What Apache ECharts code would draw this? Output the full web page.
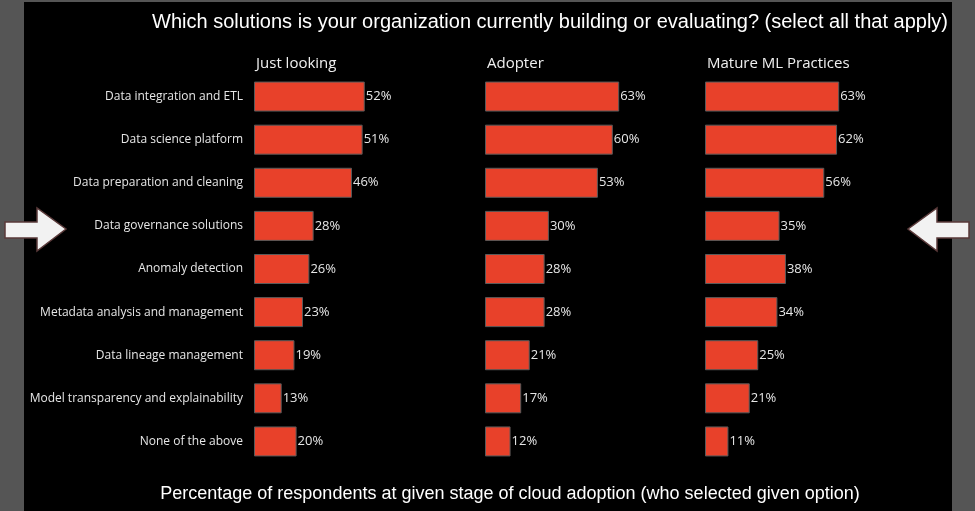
<!DOCTYPE html>
<html><head><meta charset="utf-8">
<script src="https://cdn.jsdelivr.net/npm/echarts@6/dist/echarts.min.js"></script>
<style>html,body{margin:0;padding:0;background:#000;}#c{width:975px;height:511px;}</style>
</head><body><div id="c"></div>
<script>
const categories = ["Data integration and ETL","Data science platform","Data preparation and cleaning","Data governance solutions","Anomaly detection","Metadata analysis and management","Data lineage management","Model transparency and explainability","None of the above"];
const groups = ["Just looking","Adopter","Mature ML Practices"];
const justLooking = [52,51,46,28,26,23,19,13,20];
const adopter = [63,60,53,30,28,28,21,17,12];
const mature = [63,62,56,35,38,34,25,21,11];
const titleText = "Which solutions is your organization currently building or evaluating? (select all that apply)";
const footText = "Percentage of respondents at given stage of cloud adoption (who selected given option)";

const seriesData = [justLooking, adopter, mature];
const lefts = [254, 485, 705];
const chart = echarts.init(document.getElementById('c'));
const grids = [], xAxes = [], yAxes = [], series = [], titles = [];
seriesData.forEach((d, i) => {
  grids.push({left: lefts[i], top: 75, width: 213, height: 388});
  xAxes.push({gridIndex: i, type: 'value', min: 0, max: 100, show: false});
  yAxes.push({gridIndex: i, type: 'category', data: categories, inverse: true,
    axisLine: {show: false}, axisTick: {show: false}, splitLine: {show: false},
    axisLabel: {show: i === 0, color: '#e6e6e6', fontFamily: 'Open Sans', fontSize: 12, margin: 11}});
  series.push({type: 'bar', xAxisIndex: i, yAxisIndex: i, data: d, barWidth: 30,
    itemStyle: {color: '#E8412A', borderColor: '#5a5a5a', borderWidth: 1},
    label: {show: true, position: 'right', distance: 1, formatter: '{c}%', color: '#e6e6e6', fontFamily: 'Open Sans', fontSize: 13},
    silent: true, animation: false});
  titles.push({text: groups[i], left: lefts[i] - 3, top: 51, textStyle: {color: '#f0f0f0', fontFamily: 'Open Sans', fontSize: 15, fontWeight: 'normal'}});
});
titles.push({text: titleText, left: 545, top: 7, textAlign: 'center', textStyle: {color: '#fff', fontFamily: 'Liberation Sans', fontSize: 20, fontWeight: 'normal'}});
titles.push({text: footText, left: 505, top: 480, textAlign: 'center', textStyle: {color: '#fff', fontFamily: 'Liberation Sans', fontSize: 18, fontWeight: 'normal'}});

const arrowStyle = {fill: '#f2f2f2', stroke: '#5a3a3a', lineWidth: 1.5};
chart.setOption({
  backgroundColor: '#000',
  animation: false,
  title: titles,
  grid: grids, xAxis: xAxes, yAxis: yAxes, series: series,
  graphic: [
    {type: 'rect', shape: {x: 0, y: 0, width: 24, height: 511}, style: {fill: '#555'}, z: -10},
    {type: 'rect', shape: {x: 952, y: 0, width: 23, height: 511}, style: {fill: '#555'}, z: -10},
    {type: 'rect', shape: {x: 0, y: 0, width: 975, height: 2}, style: {fill: '#555'}, z: -10},
    {type: 'polygon', shape: {points: [[5,222],[37,222],[37,208],[66,229],[37,251],[37,238],[5,238]]}, style: arrowStyle, z: 10},
    {type: 'polygon', shape: {points: [[969,222],[937,222],[937,208],[908,229],[937,251],[937,238],[969,238]]}, style: arrowStyle, z: 10}
  ]
});
</script></body></html>
